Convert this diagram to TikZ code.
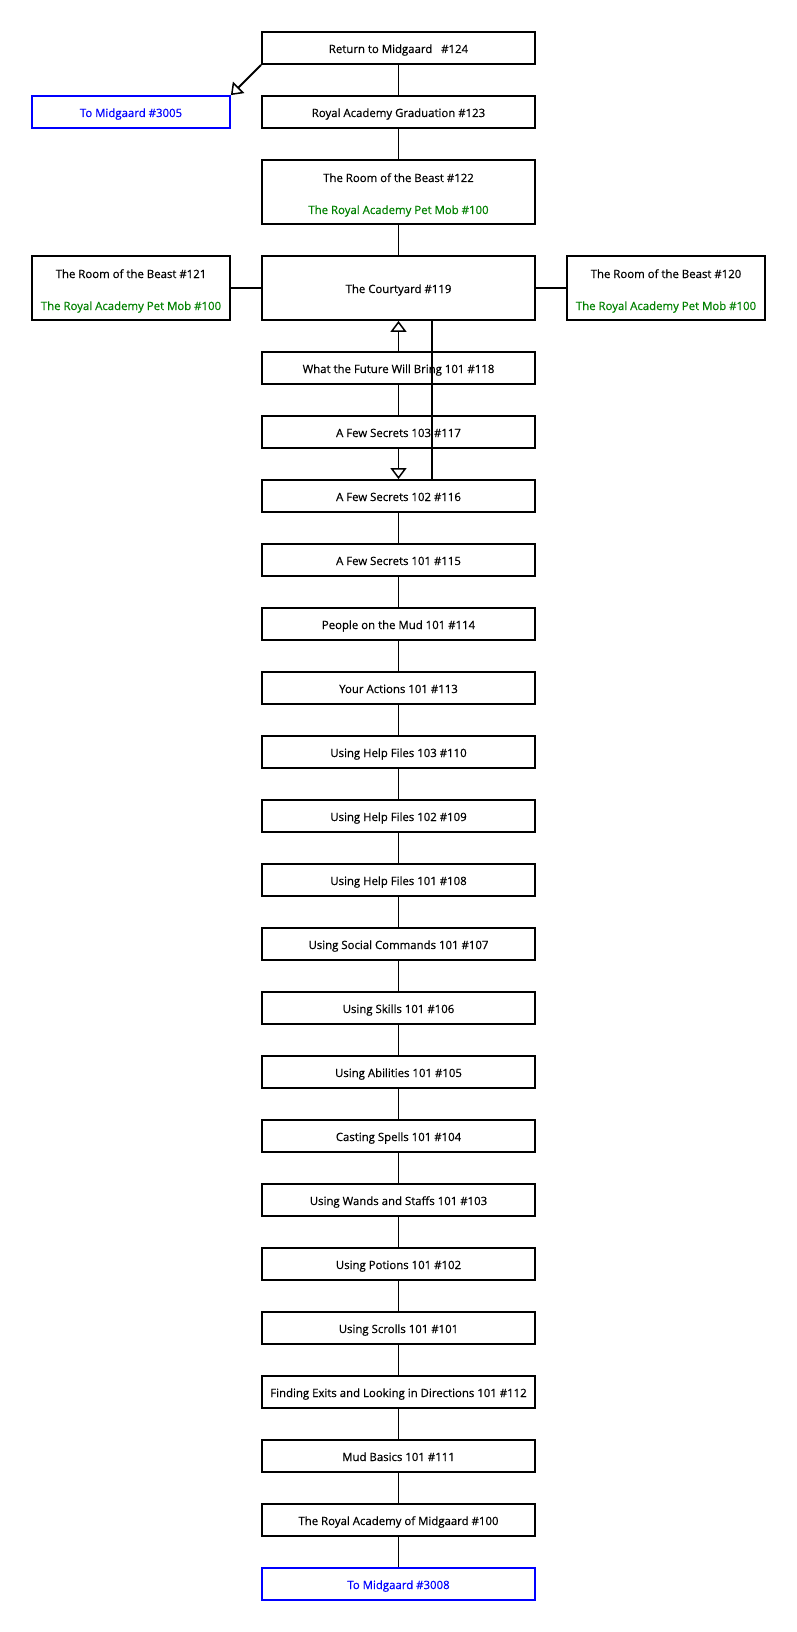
\documentclass[tikz,border=0pt]{standalone}
\usepackage{fontspec}
\setmainfont{Open Sans}[FakeBold=0.6]
\usetikzlibrary{arrows.meta}
\definecolor{mudgreen}{RGB}{0,128,0}
\definecolor{mudblue}{RGB}{0,0,255}
\tikzset{
  txt/.style={font=\fontsize{11.4}{13}\selectfont, text height=10pt, text depth=0pt},
  room/.style={draw=black, line width=1.8pt, minimum width=273pt, minimum height=32pt, inner sep=0pt, txt},
  roomtall/.style={room, minimum height=64pt},
  side/.style={room, minimum width=198pt, minimum height=64pt},
  exitbox/.style={room, draw=mudblue, text=mudblue},
  lbl/.style={inner sep=0pt, txt},
  moblbl/.style={lbl, text=mudgreen},
  link/.style={line width=1.8pt, draw=black},
  oneway/.style={link, -{Triangle[open, width=16pt, length=11pt, line width=1.5pt]}},
}
\begin{document}
\begin{tikzpicture}[x=1pt, y=-1pt]
\useasboundingbox (0,0) rectangle (797,1632);
% top rows
\node[room] (r124) at (398.5,48) {Return to Midgaard\ \ \ \#124};
\node[exitbox, minimum width=198pt] (x3005) at (131,112) {To Midgaard \#3005};
\node[room] (r123) at (398.5,112) {Royal Academy Graduation \#123};
\node[roomtall] (r122) at (398.5,192) {};
\node[lbl] (r122a) at (398.5,177) {The Room of the Beast \#122};
\node[moblbl] (r122b) at (398.5,209) {The Royal Academy Pet Mob \#100};
\node[roomtall] (r119) at (398.5,288) {The Courtyard \#119};
\node[side] (r121) at (131,288) {};
\node[lbl] (r121a) at (131,273) {The Room of the Beast \#121};
\node[moblbl] (r121b) at (131,305) {The Royal Academy Pet Mob \#100};
\node[side] (r120) at (666,288) {};
\node[lbl] (r120a) at (666,273) {The Room of the Beast \#120};
\node[moblbl] (r120b) at (666,305) {The Royal Academy Pet Mob \#100};
% main column
\node[room] (r118) at (398.5,368) {What the Future Will Bring 101 \#118};
\node[room] (r117) at (398.5,432) {A Few Secrets 103 \#117};
\node[room] (r116) at (398.5,496) {A Few Secrets 102 \#116};
\node[room] (r115) at (398.5,560) {A Few Secrets 101 \#115};
\node[room] (r114) at (398.5,624) {People on the Mud 101 \#114};
\node[room] (r113) at (398.5,688) {Your Actions 101 \#113};
\node[room] (r110) at (398.5,752) {Using Help Files 103 \#110};
\node[room] (r109) at (398.5,816) {Using Help Files 102 \#109};
\node[room] (r108) at (398.5,880) {Using Help Files 101 \#108};
\node[room] (r107) at (398.5,944) {Using Social Commands 101 \#107};
\node[room] (r106) at (398.5,1008) {Using Skills 101 \#106};
\node[room] (r105) at (398.5,1072) {Using Abilities 101 \#105};
\node[room] (r104) at (398.5,1136) {Casting Spells 101 \#104};
\node[room] (r103) at (398.5,1200) {Using Wands and Staffs 101 \#103};
\node[room] (r102) at (398.5,1264) {Using Potions 101 \#102};
\node[room] (r101) at (398.5,1328) {Using Scrolls 101 \#101};
\node[room] (r112) at (398.5,1392) {Finding Exits and Looking in Directions 101 \#112};
\node[room] (r111) at (398.5,1456) {Mud Basics 101 \#111};
\node[room] (r100) at (398.5,1520) {The Royal Academy of Midgaard \#100};
\node[exitbox] (x3008) at (398.5,1584) {To Midgaard \#3008};
% connectors
\draw[oneway] (r124.south west) -- (x3005.north east);
\draw[link] (r124) -- (r123);
\draw[link] (r123) -- (r122);
\draw[link] (r122) -- (r119);
\draw[link] (r119) -- (r121);
\draw[link] (r119) -- (r120);
\draw[oneway] (r118.north) -- (r119.south);
\draw[link] (r118) -- (r117);
\draw[oneway] (r117.south) -- (r116.north);
\draw[link] ([xshift=33.5pt]r116.north) -- ([xshift=33.5pt]r119.south);
\draw[link] (r116) -- (r115);
\draw[link] (r115) -- (r114);
\draw[link] (r114) -- (r113);
\draw[link] (r113) -- (r110);
\draw[link] (r110) -- (r109);
\draw[link] (r109) -- (r108);
\draw[link] (r108) -- (r107);
\draw[link] (r107) -- (r106);
\draw[link] (r106) -- (r105);
\draw[link] (r105) -- (r104);
\draw[link] (r104) -- (r103);
\draw[link] (r103) -- (r102);
\draw[link] (r102) -- (r101);
\draw[link] (r101) -- (r112);
\draw[link] (r112) -- (r111);
\draw[link] (r111) -- (r100);
\draw[link] (r100) -- (x3008);
\end{tikzpicture}
\end{document}
